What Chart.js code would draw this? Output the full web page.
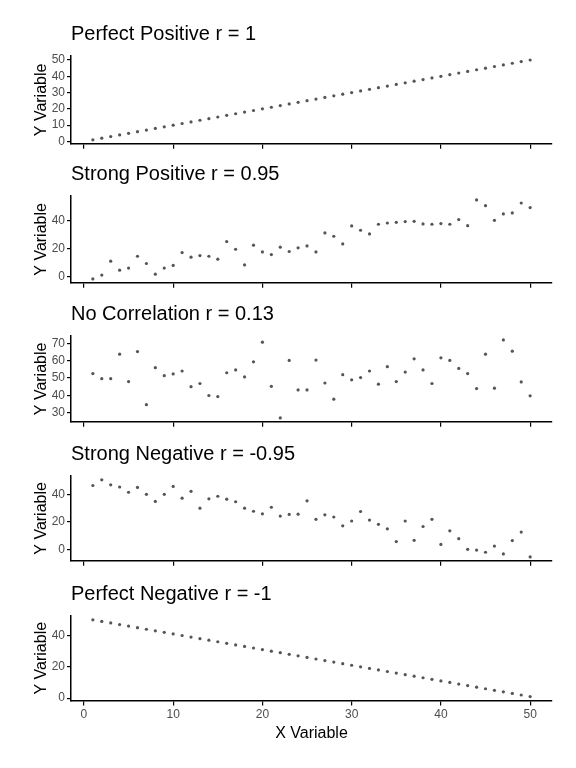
<!DOCTYPE html>
<html><head><meta charset="utf-8">
<script src="https://cdn.jsdelivr.net/npm/chart.js@4"></script>
<style>body{margin:0;background:#fff;width:576px;height:768px;position:relative;overflow:hidden}
.p{position:absolute;left:0;width:576px}</style></head><body>
<div class="p" style="top:14px;height:139px"><canvas id="c0"></canvas></div>
<div class="p" style="top:154px;height:138px"><canvas id="c1"></canvas></div>
<div class="p" style="top:294px;height:137px"><canvas id="c2"></canvas></div>
<div class="p" style="top:434px;height:136px"><canvas id="c3"></canvas></div>
<div class="p" style="top:574px;height:177px"><canvas id="c4"></canvas></div>
<script>
const titles=["Perfect Positive r = 1","Strong Positive r = 0.95","No Correlation r = 0.13","Strong Negative r = -0.95","Perfect Negative r = -1"];
const xValues=Array.from({length:50},(_,i)=>i+1);
const perfectPos=xValues.slice();
const strongPos=[-1.7,1.0,11,4.5,6,14.5,9.3,1.7,6,7.9,17.1,13.8,15,14.5,12.4,25,19.5,8.3,22.4,17.6,15.7,21,17.9,20.5,21.9,17.6,31.2,28.8,23.3,36.2,33.1,30.5,37.4,38.3,38.8,39.3,39.5,37.6,37.4,37.9,37.4,40.7,36.4,54.8,50.7,40.2,44.8,45.5,52.6,49.3];
const noCorr=[52.5,49.6,49.6,63.7,47.9,65.2,34.6,55.9,51.3,52.3,54,45,46.8,39.9,39.3,53,54.6,50.6,59.3,70.6,45.2,27,60.1,43.1,43.1,60.3,47.1,37.8,51.9,48.9,50.2,54,46.4,56.5,47.9,53.4,61,54.6,46.8,61.6,60.1,55.5,52.5,43.9,63.7,44.1,71.9,65.4,47.7,39.7];
const strongNeg=[46.4,50.5,46.9,45.3,41.5,45,40,34.8,40,45.7,37.2,42.2,29.9,36.7,38.6,36.5,34.6,29.9,27.7,25.8,30.6,24.2,25.4,25.6,35.3,21.8,25.1,23.5,17.1,20.6,27.5,21.3,18.2,14.9,5.7,20.6,6.6,16.6,21.8,3.6,13.5,7.8,0,-0.5,-2.1,2.4,-3.3,6.4,12.6,-5.5];
const perfectNeg=xValues.map(x=>51-x);
const series=[perfectPos,strongPos,noCorr,strongNeg,perfectNeg];
const yRanges=[[-1.45,52.45,10],[-4.5,57.6,20],[24.75,74.15,10],[-8.3,53.3,10],[-1.45,52.45,10]];
const F="'Liberation Sans', Arial, sans-serif";
series.forEach((s,i)=>{
  const last=i===4;
  new Chart(document.getElementById('c'+i),{type:'scatter',
    data:{datasets:[{data:xValues.map((x,j)=>({x,y:s[j]})),pointRadius:1.6,pointBackgroundColor:'#555',pointBorderWidth:0}]},
    options:{responsive:true,maintainAspectRatio:false,animation:false,
      layout:{padding:{left:28,right:24,top:0,bottom:last?4:0}},
      plugins:{legend:{display:false},tooltip:{enabled:false},
        title:{display:true,fullSize:false,text:titles[i],align:'start',color:'#000',font:{family:F,size:20,weight:'normal'},padding:{top:8,bottom:10}}},
      scales:{
        x:{type:'linear',min:-1.45,max:52.45,
          afterBuildTicks:a=>{a.ticks=[0,10,20,30,40,50].map(v=>({value:v}));},
          border:{color:'#000',width:1.5},
          grid:{drawOnChartArea:false,drawTicks:true,tickLength:5,color:'#000',lineWidth:1.2},
          ticks:{display:last,color:'#4d4d4d',font:{family:F,size:12},padding:2},
          title:{display:last,text:'X Variable',color:'#000',font:{family:F,size:16},padding:{top:0}}},
        y:{min:yRanges[i][0],max:yRanges[i][1],
          afterBuildTicks:a=>{const t=[];for(let v=Math.ceil(yRanges[i][0]/yRanges[i][2])*yRanges[i][2];v<=yRanges[i][1];v+=yRanges[i][2])t.push({value:v});a.ticks=t;},
          afterFit:a=>{a.width=43;},
          border:{color:'#000',width:1.5},
          grid:{drawOnChartArea:false,drawTicks:true,tickLength:4,color:'#000',lineWidth:1.2},
          ticks:{color:'#4d4d4d',font:{family:F,size:12},padding:2},
          title:{display:true,text:'Y Variable',color:'#000',font:{family:F,size:16},padding:{bottom:0}}}
      }}});
});
</script></body></html>
